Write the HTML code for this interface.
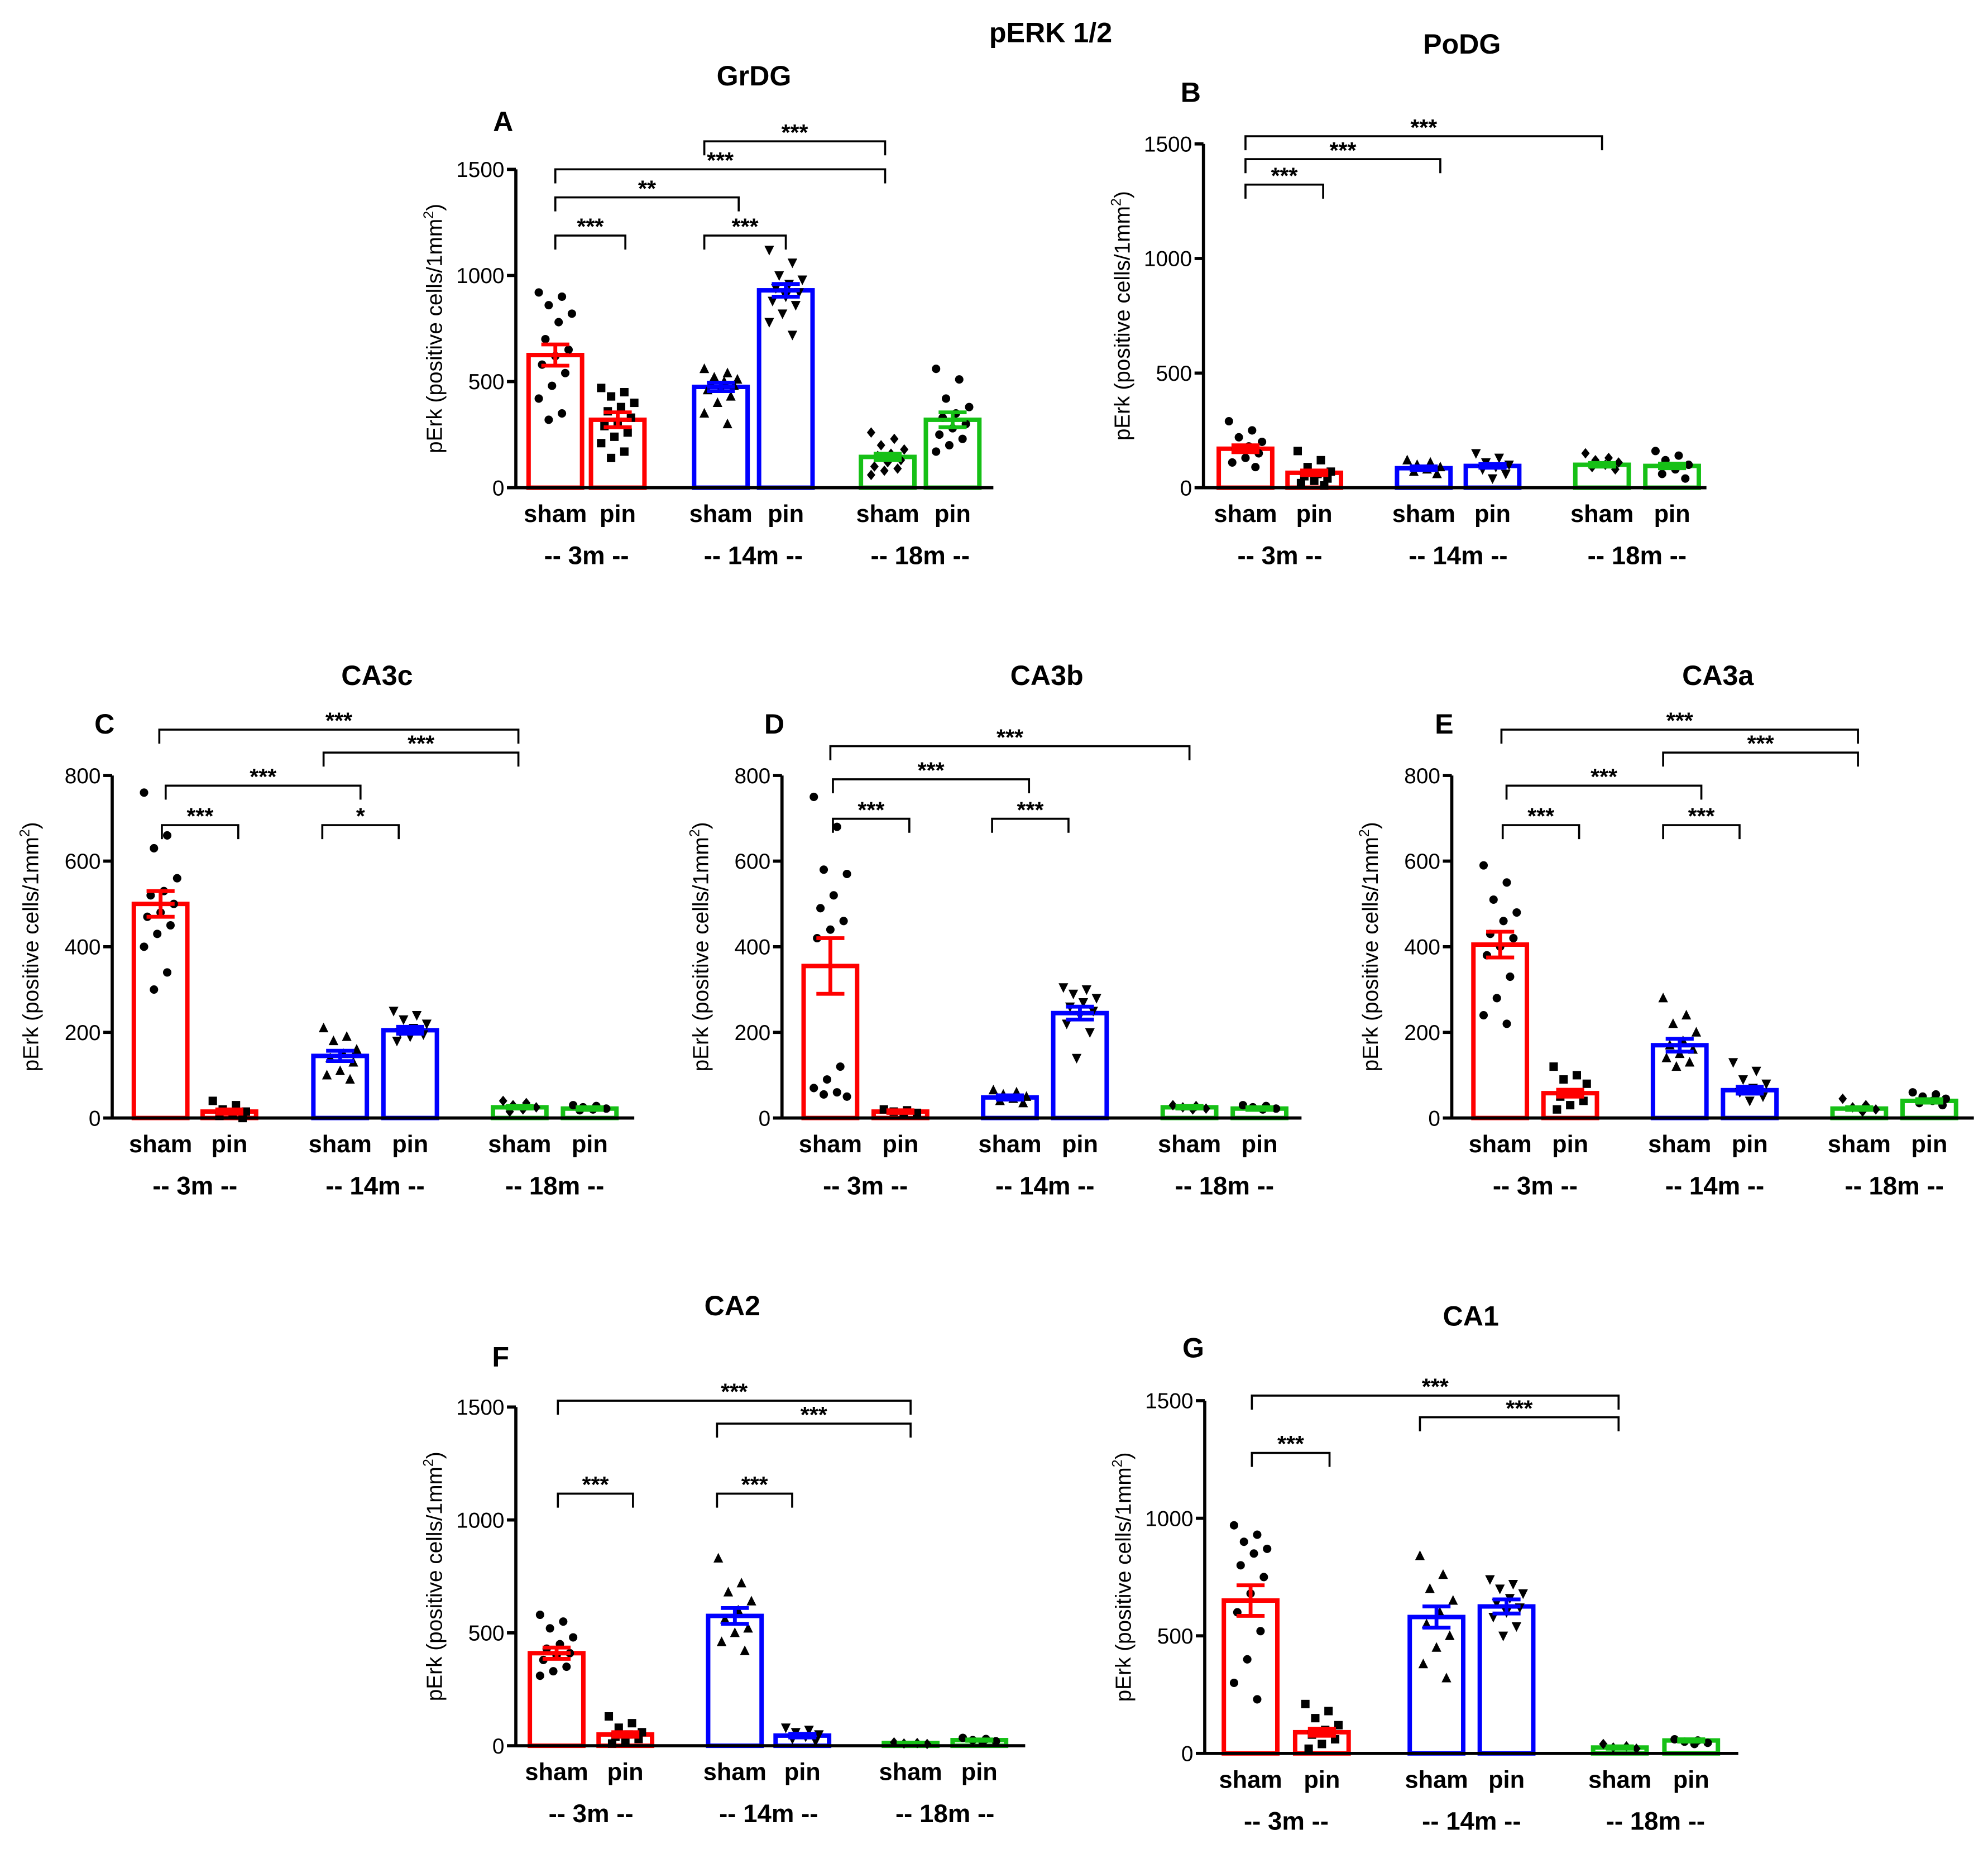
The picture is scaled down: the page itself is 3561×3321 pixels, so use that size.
<!DOCTYPE html>
<html><head><meta charset="utf-8"><style>
html,body{margin:0;padding:0;background:#fff}
svg{display:block;font-family:"Liberation Sans",Arial,sans-serif}
</style></head><body>
<svg id="fig" width="3561" height="3321" viewBox="0 0 1561 1456" xmlns="http://www.w3.org/2000/svg">
<text x="825" y="33" font-size="22" font-weight="bold" text-anchor="middle">pERK 1/2</text>
</svg>
<script>
// ---- data ----
const groupLabels = ["-- 3m --", "-- 14m --", "-- 18m --"];
const barLabels = ["sham", "pin", "sham", "pin", "sham", "pin"];
const panelIds = ["A","B","C","D","E","F","G"];
const panelTitles = ["GrDG","PoDG","CA3c","CA3b","CA3a","CA2","CA1"];
const yTicksA = [0,500,1000,1500];
const yTicksB = [0,500,1000,1500];
const yTicksC = [0,200,400,600,800];
const meansA = [625,320,475,930,145,320];
const meansB = [170,65,85,95,100,95];
const meansC = [500,15,145,205,25,22];
const meansD = [355,15,48,245,25,22];
const meansE = [405,58,170,65,22,40];
const meansF = [410,50,575,45,12,25];
const meansG = [650,90,580,625,25,55];
const semA = [50,35,20,30,15,35];
const semB = [15,10,8,8,8,10];
const semC = [30,5,12,8,3,3];
const semD = [65,3,5,15,3,3];
const semE = [30,8,15,8,3,4];
const semF = [25,10,35,8,2,3];
const semG = [65,15,45,30,5,5];
const ptsA = [[920,900,860,820,780,700,650,620,580,540,480,420,350,320],[470,450,430,400,380,360,330,310,290,260,240,210,170,140],[560,540,520,510,500,490,480,470,460,430,400,350,300],[1120,1060,1000,980,960,940,920,900,880,860,820,780,720],[260,230,200,180,160,150,130,120,100,90,80,60],[560,510,420,380,350,330,300,280,250,230,200,170]];
const ptsB = [[290,250,220,200,180,170,150,130,110,90],[160,120,90,70,60,50,40,30,20,10],[120,110,100,90,80,70,60],[150,130,110,100,90,80,60,40],[150,130,120,110,100,90,80],[160,140,120,100,80,60,40]];
const ptsC = [[760,660,630,560,530,520,500,480,470,450,430,400,340,300],[40,30,20,15,10,5,0],[210,190,180,160,150,140,130,110,100,90],[250,240,230,220,210,200,195,190,180],[40,35,30,25,20,15],[30,28,25,22,20,18]];
const ptsD = [[750,680,580,570,520,490,460,440,420,120,90,70,60,55,50],[20,18,15,12,10],[65,60,55,50,45,40,35],[305,300,290,280,270,260,250,240,220,200,140],[30,28,25,22,20],[30,28,25,22,20]];
const ptsE = [[590,550,510,480,460,430,420,400,380,330,280,240,220],[120,100,90,80,60,50,40,30,20],[280,240,220,200,180,170,160,150,140,130,120],[130,110,90,80,70,60,50,40],[45,30,25,20,15],[60,55,50,45,40,35,30]];
const ptsF = [[580,550,520,480,450,430,410,400,380,350,330,310],[130,100,80,60,50,40,30,20,10],[830,720,680,640,600,560,520,500,460,420],[80,70,60,50,40,30,20],[15,12,10,8],[35,30,25,20,15]];
const ptsG = [[970,930,900,870,850,800,750,680,600,520,400,300,230],[210,180,150,120,100,80,60,40,20],[840,760,700,650,600,550,500,450,380,320],[740,720,700,680,660,640,620,600,580,540,500],[40,30,25,20],[60,55,50,45,40]];
</script>
<script>
const NS="http://www.w3.org/2000/svg";
const svg=document.getElementById('fig');
const colors=["#ff0000","#ff0000","#0000ff","#0000ff","#16c016","#16c016"];
const shapes=["circle","square","tri","tridown","diamond","circle"];
function mk(tag,attrs,parent){const e=document.createElementNS(NS,tag);for(const k in attrs)e.setAttribute(k,attrs[k]);(parent||svg).appendChild(e);return e;}
function txt(x,y,s,size,weight,anchor,parent){const t=mk('text',{x:x,y:y,'font-size':size,'font-weight':weight,'text-anchor':anchor},parent);t.textContent=s;return t;}
const layout=[
 {ax:405,y0:383,y1:133,max:1500,ticks:yTicksA,cx:[436,485,566,617,697,748],xe:780,title:[592,67],lab:[395,103],means:meansA,sem:semA,pts:ptsA,
  br:[[436,491,185,"***"],[436,580,155,"**"],[436,695,133,"***"],[553,617,185,"***"],[553,695,111,"***"]]},
 {ax:945,y0:383,y1:113,max:1500,ticks:yTicksB,cx:[978,1032,1118,1172,1258,1313],xe:1340,title:[1148,42],lab:[935,80],means:meansB,sem:semB,pts:ptsB,
  br:[[978,1039,145,"***"],[978,1131,125,"***"],[978,1258,107,"***"]]},
 {ax:88,y0:878,y1:609,max:800,ticks:yTicksC,cx:[126,180,267,322,408,463],xe:498,title:[296,538],lab:[82,576],means:meansC,sem:semC,pts:ptsC,
  br:[[127,187,648,"***"],[130,283,617,"***"],[253,313,648,"*"],[254,407,591,"***"],[125,407,573,"***"]]},
 {ax:614,y0:878,y1:609,max:800,ticks:yTicksC,cx:[652,707,793,848,934,989],xe:1022,title:[822,538],lab:[608,576],means:meansD,sem:semD,pts:ptsD,
  br:[[654,714,643,"***"],[654,808,612,"***"],[779,839,643,"***"],[652,934,586,"***"]]},
 {ax:1140,y0:878,y1:609,max:800,ticks:yTicksC,cx:[1178,1233,1319,1374,1460,1515],xe:1550,title:[1349,538],lab:[1134,576],means:meansE,sem:semE,pts:ptsE,
  br:[[1180,1240,648,"***"],[1183,1336,617,"***"],[1306,1366,648,"***"],[1306,1459,591,"***"],[1179,1459,573,"***"]]},
 {ax:405,y0:1371,y1:1105,max:1500,ticks:yTicksB,cx:[437,491,577,630,715,769],xe:805,title:[575,1033],lab:[393,1073],means:meansF,sem:semF,pts:ptsF,
  br:[[438,497,1173,"***"],[563,622,1173,"***"],[563,715,1118,"***"],[438,715,1100,"***"]]},
 {ax:946,y0:1377,y1:1100,max:1500,ticks:yTicksB,cx:[982,1038,1128,1183,1272,1328],xe:1365,title:[1155,1041],lab:[937,1066],means:meansG,sem:semG,pts:ptsG,
  br:[[983,1044,1141,"***"],[1115,1271,1113,"***"],[983,1271,1096,"***"]]}
];
function marker(g,shape,x,y,col){
 const r=3.3;
 if(shape==="circle")return mk('circle',{cx:x,cy:y,r:r,fill:col},g);
 if(shape==="square")return mk('rect',{x:x-r,y:y-r,width:2*r,height:2*r,fill:col},g);
 if(shape==="tri")return mk('polygon',{points:`${x},${y-r-1} ${x-r-0.5},${y+r} ${x+r+0.5},${y+r}`,fill:col},g);
 if(shape==="tridown")return mk('polygon',{points:`${x},${y+r+1} ${x-r-0.5},${y-r} ${x+r+0.5},${y-r}`,fill:col},g);
 return mk('polygon',{points:`${x},${y-r-0.8} ${x+r},${y} ${x},${y+r+0.8} ${x-r},${y}`,fill:col},g);
}
layout.forEach((L,pi)=>{
 const g=mk('g',{});
 
 
 const Y=v=>L.y0-(v/L.max)*(L.y0-L.y1);
 const t=txt(L.title[0],L.title[1],panelTitles[pi],22,'bold','middle',g);
 
 
 const l=txt(L.lab[0],L.lab[1],panelIds[pi],22,'bold','middle',g);
 
 
 L.means.forEach((m,i)=>{
  const w=42,x=L.cx[i];
  const b=mk('rect',{x:x-w/2,y:Y(m),width:w,height:L.y0-Y(m),fill:'#fff',stroke:colors[i],'stroke-width':3.5},g);
  
  
 });
 L.pts.forEach((arr,i)=>{
  arr.forEach((v,k)=>{
   const off=((k*7)%11-5)*2.6;
   const p=marker(g,shapes[i],L.cx[i]+off,Y(v),'#000');
   
   
  });
 });
 L.means.forEach((m,i)=>{
  const x=L.cx[i],s=L.sem[i];
  const e=mk('path',{d:`M${x},${Y(m+s)}V${Y(m-s)}M${x-11},${Y(m+s)}H${x+11}M${x-11},${Y(m-s)}H${x+11}M${x-11},${Y(m)}H${x+11}`,stroke:colors[i],'stroke-width':3,fill:'none'},g);
  
  
 });
 const ya=mk('line',{x1:L.ax,y1:L.y0+1,x2:L.ax,y2:L.y1,stroke:'#000','stroke-width':2.5},g);
 
 
 const xa=mk('line',{x1:L.ax,y1:L.y0,x2:L.xe,y2:L.y0,stroke:'#000','stroke-width':2.5},g);
 
 
 L.ticks.forEach(tv=>{
  mk('line',{x1:L.ax-7,y1:Y(tv),x2:L.ax,y2:Y(tv),stroke:'#000','stroke-width':2.5},g);
  const tl=txt(L.ax-9,Y(tv)+6,String(tv),17,'normal','end',g);
  
  
 });
 const ymid=(L.y0+L.y1)/2, yx=L.ax-58;
 const yt=mk('text',{x:yx,y:ymid,'font-size':17,'text-anchor':'middle',transform:`rotate(-90 ${yx} ${ymid})`},g);
 yt.innerHTML='pErk (positive cells/1mm<tspan dy="-7" font-size="11">2</tspan><tspan dy="7">)</tspan>';
 
 
 L.cx.forEach((x,i)=>{
  const c=txt(x,L.y0+27,barLabels[i],19,'bold','middle',g);
  
  
 });
 groupLabels.forEach((s,j)=>{
  const x=(L.cx[2*j]+L.cx[2*j+1])/2;
  const gl=txt(x,L.y0+60,s,20,'bold','middle',g);
  
  
 });
 L.br.forEach(b=>{
  const p=mk('path',{d:`M${b[0]},${b[2]+11}V${b[2]}H${b[1]}V${b[2]+11}`,stroke:'#000','stroke-width':1.6,fill:'none'},g);
  
  
  const st=txt((b[0]+b[1])/2,b[2]-1,b[3],18,'bold','middle',g);
  
  
 });
});
</script>
</body></html>
